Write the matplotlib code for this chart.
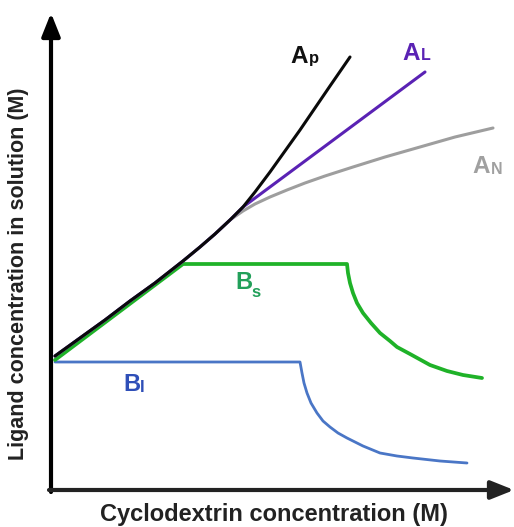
import matplotlib
matplotlib.use("Agg")
import matplotlib.pyplot as plt

# Schematic phase-solubility diagram (arbitrary units)
ap_x = [4, 29, 54, 79, 104, 132, 149, 164, 179, 192, 204, 219, 234, 249, 264, 279, 299]
ap_y = [134, 152, 170, 189, 207, 229, 243, 256, 270, 283, 298, 318, 339, 360, 382, 404, 433]

al_x = [4, 29, 54, 79, 104, 132, 149, 164, 179, 192, 374]
al_y = [134, 152, 170, 189, 207, 229, 243, 256, 270, 283, 418]

an_x = [4, 29, 54, 79, 104, 132, 149, 164, 179, 192, 204, 219, 236, 254, 274, 302, 334, 369, 404, 442]
an_y = [134, 152, 170, 189, 207, 229, 243, 256, 270, 279, 286, 293, 300, 307, 314, 323, 333, 343, 353, 362]

bs_x = [4, 132, 296, 297, 299, 302, 306, 312, 320, 329, 339, 346, 359, 379, 396, 412, 431]
bs_y = [130, 226, 226, 217, 207, 197, 187, 177, 167, 157, 149, 143, 136, 125, 119, 115, 112]

bl_x = [4, 249, 251, 253, 256, 260, 266, 272, 279, 287, 296, 312, 329, 346, 362, 389, 416]
bl_y = [128, 128, 117, 107, 97, 87, 77, 69, 63, 57, 52, 44, 37, 34, 32, 29, 27]

labels = [("A", "p"), ("A", "L"), ("A", "N"), ("B", "s"), ("B", "I")]

fig = plt.figure(figsize=(5.14, 5.27), dpi=100)
ax = fig.add_axes([0, 0, 1, 1])
ax.set_xlim(-51, 463)
ax.set_ylim(-37, 490)
ax.axis("off")

kw = dict(solid_capstyle="round", solid_joinstyle="round")
ax.plot(bl_x, bl_y, color="#4a76c6", lw=2.0, **kw)
ax.plot(bs_x, bs_y, color="#1fb228", lw=2.7, **kw)
ax.plot(an_x, an_y, color="#9e9e9e", lw=2.2, **kw)
ax.plot(al_x, al_y, color="#5a22b4", lw=2.2, **kw)
ax.plot(ap_x, ap_y, color="#0a0a0a", lw=2.2, **kw)

# axes arrows
arrow = dict(arrowstyle="-|>,head_length=1.0,head_width=0.4", lw=3, color="black",
             mutation_scale=14, shrinkA=0, shrinkB=0)
ax.annotate("", xy=(0, 477), xytext=(0, -2), arrowprops=arrow)
ax.annotate("", xy=(463, 0), xytext=(-2, 0), arrowprops=dict(arrow, color="#222222"))

fp = dict(family="Liberation Sans", fontweight="bold")
ax.text(223, -25, "Cyclodextrin concentration (M)", ha="center", va="center",
        fontsize=17, color="#222222", **fp)
ax.text(-32, 216, "Ligand concentration in solution (M)", ha="center", va="center",
        rotation=90, fontsize=15.5, color="#222222", **fp)

pos = [((239, 427), (258, 427), "#111111", 17.5, 12),
       ((351, 430), (370, 430), "#5a22b4", 17.5, 11.5),
       ((421, 317), (440, 316), "#a0a0a0", 17.5, 11.5),
       ((184, 201), (200, 193), "#22a05a", 17, 12),
       ((72, 99), (89, 98), "#2f4fb8", 17, 12)]
for (main, sub), (p1, p2, c, big, small) in zip(labels, pos):
    ax.text(p1[0], p1[1], main, ha="left", va="baseline", fontsize=big, color=c, **fp)
    ax.text(p2[0], p2[1], sub, ha="left", va="baseline", fontsize=small, color=c, **fp)

fig.savefig("out.png", dpi=100)
